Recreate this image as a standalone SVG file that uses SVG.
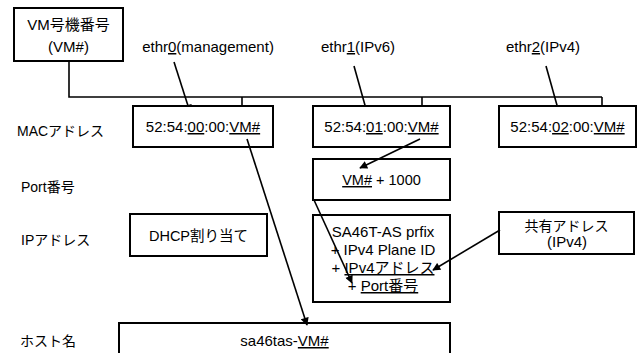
<svg xmlns="http://www.w3.org/2000/svg" width="643" height="353" viewBox="0 0 643 353">
<defs>
<marker id="ah" viewBox="0 0 10 10" refX="9" refY="5" markerWidth="9" markerHeight="8" markerUnits="userSpaceOnUse" orient="auto">
<path d="M0,0 L10,5 L0,10 z" fill="#000"/>
</marker>
<style>
text{font-family:"Liberation Sans","Noto Sans CJK JP",sans-serif;fill:#000;}
.box{fill:#fff;stroke:#000;stroke-width:2;}
.ln{fill:none;stroke:#000;stroke-width:1.6;}
.ar{fill:none;stroke:#000;stroke-width:1.6;marker-end:url(#ah);}
.c{text-anchor:middle;}
.u{text-decoration:underline;}
.f15{font-size:15px;}
.f145{font-size:14.5px;}
.f14{font-size:14px;}
</style>
</defs>
<rect width="643" height="353" fill="#fff"/>

<g id="row-labels">
<text class="f14" x="17" y="136">MACアドレス</text>
<text class="f14" x="21" y="192">Port番号</text>
<text class="f14" x="21" y="245">IPアドレス</text>
<text class="f14" x="20" y="346">ホスト名</text>
</g>

<g id="connectors">
<polyline class="ln" points="69,61 69,97 602,97"/>
<line class="ar" x1="242" y1="97" x2="242" y2="116"/>
<line class="ar" x1="422" y1="97" x2="422" y2="116"/>
<line class="ar" x1="602" y1="97" x2="602" y2="116"/>
<line class="ar" x1="174" y1="62" x2="190" y2="112"/>
<line class="ar" x1="354" y1="66" x2="368" y2="116"/>
<line class="ar" x1="546" y1="66" x2="560" y2="116"/>
</g>

<g id="vm">
<rect class="box" x="14" y="8" width="109" height="53"/>
<text class="f15 c" x="68.5" y="30">VM号機番号</text>
<text class="f15 c" x="68.5" y="52">(VM#)</text>
</g>

<g id="eth-labels">
<text class="f15 c" x="208" y="52">ethr<tspan class="u">0</tspan>(management)</text>
<text class="f15 c" x="358" y="52">ethr<tspan class="u">1</tspan>(IPv6)</text>
<text class="f15 c" x="543" y="52">ethr<tspan class="u">2</tspan>(IPv4)</text>
</g>

<g id="mac0">
<rect class="box" x="133" y="106" width="140" height="41"/>
<text class="f15 c" x="203" y="132">52:54:<tspan class="u">00</tspan>:00:<tspan class="u">VM#</tspan></text>
</g>
<g id="mac1">
<rect class="box" x="313" y="106" width="137" height="41"/>
<text class="f15 c" x="381.5" y="132">52:54:<tspan class="u">01</tspan>:00:<tspan class="u">VM#</tspan></text>
</g>
<g id="mac2">
<rect class="box" x="499" y="106" width="137" height="41"/>
<text class="f15 c" x="567.5" y="132">52:54:<tspan class="u">02</tspan>:00:<tspan class="u">VM#</tspan></text>
</g>

<g id="port">
<rect class="box" x="313" y="159" width="137" height="41"/>
<text class="f145 c" x="381.5" y="185"><tspan class="u">VM#</tspan> + 1000</text>
</g>

<g id="dhcp">
<rect class="box" x="130" y="214" width="137" height="42"/>
<text class="f145 c" x="198.5" y="241">DHCP割り当て</text>
</g>

<g id="ip">
<rect class="box" x="313" y="215" width="137" height="87"/>
<text class="f15 c" x="383" y="237">SA46T-AS prfix</text>
<text class="f15 c" x="383" y="255">+ IPv4 Plane ID</text>
<text class="f15 c" x="383" y="273">+ <tspan class="u">IPv4アドレス</tspan></text>
<text class="f15 c" x="383" y="291">+ <tspan class="u">Port番号</tspan></text>
</g>

<g id="shared">
<rect class="box" x="499" y="212" width="135" height="42"/>
<text class="f14 c" x="566.5" y="231">共有アドレス</text>
<text class="f15 c" x="567" y="247">(IPv4)</text>
</g>

<g id="host">
<rect class="box" x="119" y="323" width="331" height="45"/>
<text class="f15 c" x="284.5" y="346">sa46tas-<tspan class="u">VM#</tspan></text>
</g>

<g id="connectors2">
<line class="ar" x1="420" y1="139" x2="360" y2="168"/>
<line class="ar" x1="247" y1="139" x2="307" y2="325"/>
<line class="ar" x1="314" y1="200" x2="352" y2="283"/>
<line class="ar" x1="500" y1="230" x2="433" y2="270"/>
</g>
</svg>
